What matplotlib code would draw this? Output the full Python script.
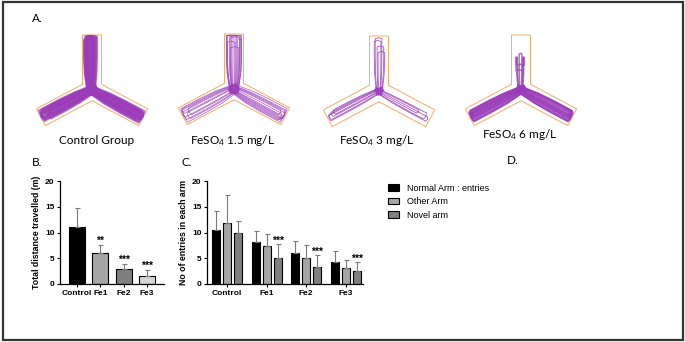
import numpy as np
import matplotlib
matplotlib.use('Agg')
from matplotlib import pyplot as plt
from matplotlib.patches import Polygon, Rectangle

plt.rcParams['mathtext.fontset'] = 'custom'
plt.rcParams['mathtext.rm'] = 'Lato'
plt.rcParams['mathtext.it'] = 'Lato'
plt.rcParams['mathtext.bf'] = 'Lato:bold'

# ---- panel B : total distance
groups_b = ['Control', 'Fe1', 'Fe2', 'Fe3']
distance = [11.1, 6.1, 3.0, 1.6]
distance_err = [3.6, 1.5, 0.8, 1.1]
stars_b = ['', '**', '***', '***']

# ---- panel C : entries per arm
groups_c = ['Control', 'Fe1', 'Fe2', 'Fe3']
arm_labels = ['Normal Arm : entries', 'Other Arm', 'Novel arm']
normal_arm = [10.5, 8.1, 6.1, 4.3]
normal_err = [3.6, 2.2, 2.2, 2.2]
other_arm = [11.8, 7.3, 5.1, 3.1]
other_err = [5.5, 2.5, 2.4, 1.5]
novel_arm = [10.0, 5.1, 3.3, 2.6]
novel_err = [2.2, 2.7, 2.3, 1.7]
stars_c = ['', '***', '***', '***']

# ---- panel A : y-maze track sketches
maze_labels = ['Control Group', 'FeSO$_4$ 1.5 mg/L', 'FeSO$_4$ 3 mg/L', 'FeSO$_4$ 6 mg/L']
maze_centers = [(92, 90), (234, 89), (379, 91), (521, 90)]
label_pos = [(97, 140), (233, 140), (377, 140), (520, 135)]
# per arm (top, left, right): (depth, lateral out, lateral back)
tracks_control = [
    [(0.97, -0.6, -0.2), (0.95, -0.4, 0.3), (0.97, 0.1, -0.5), (0.9, -0.8, 0.0),
     (0.96, 0.4, -0.3), (0.93, -0.2, 0.2), (0.97, -0.7, 0.5), (0.88, 0.0, -0.6),
     (0.97, -0.5, 0.1), (0.92, 0.2, -0.8)],
    [(0.95, 0.3, -0.2), (0.9, 0.6, 0.0), (0.97, -0.4, 0.3), (0.85, 0.1, -0.6),
     (0.92, 0.5, 0.2), (0.96, -0.1, 0.4), (0.8, 0.2, -0.3), (0.97, 0.7, -0.5),
     (0.94, -0.3, 0.6)],
    [(0.97, -0.3, 0.2), (0.93, 0.0, 0.5), (0.9, -0.5, -0.1), (0.97, 0.3, -0.2),
     (0.95, 0.6, 0.1), (0.88, -0.2, 0.4), (0.96, 0.2, -0.4), (0.97, -0.6, 0.7),
     (0.93, 0.4, -0.5)],
]
tracks_15 = [
    [(0.97, -0.8, -0.3), (0.97, 0.7, 0.2), (0.95, -0.5, 0.6), (0.97, 0.0, -0.7),
     (0.9, 0.4, 0.8), (0.96, -0.2, 0.3), (0.93, 0.6, -0.4), (0.85, -0.7, 0.1),
     (0.97, 0.8, -0.8), (0.75, -0.4, 0.5)],
    [(0.97, 0.6, -0.5), (0.95, 0.2, 0.7), (0.9, -0.6, 0.1), (0.97, 0.4, -0.2),
     (0.85, -0.3, 0.5), (0.97, -0.8, 0.8)],
    [(0.96, -0.6, 0.6), (0.97, 0.3, -0.3), (0.92, -0.1, 0.7), (0.95, 0.5, -0.5),
     (0.88, -0.4, 0.2), (0.97, 0.1, 0.4), (0.97, -0.8, 0.8)],
]
tracks_3 = [
    [(0.95, -0.4, 0.3), (0.8, 0.5, -0.2), (0.7, -0.1, 0.6), (0.9, 0.2, -0.5)],
    [(0.95, 0.3, -0.3), (0.9, -0.1, 0.4), (0.85, 0.5, 0.0), (0.97, -0.4, 0.2)],
    [(0.9, -0.3, 0.4), (0.75, 0.2, -0.2), (0.95, 0.0, 0.5)],
]
tracks_6 = [
    [(0.65, -0.2, 0.1), (0.45, 0.3, -0.4), (0.35, -0.5, 0.2)],
    [(0.97, 0.5, -0.5), (0.95, 0.2, 0.6), (0.97, -0.3, 0.3), (0.93, 0.6, -0.1),
     (0.96, -0.6, 0.0), (0.94, 0.1, -0.4), (0.97, 0.4, 0.2), (0.92, -0.2, 0.5),
     (0.97, 0.0, -0.6), (0.95, 0.3, -0.2)],
    [(0.97, -0.5, 0.5), (0.95, 0.2, -0.6), (0.97, 0.3, -0.3), (0.93, -0.6, 0.1),
     (0.96, 0.6, 0.0), (0.94, -0.1, 0.4), (0.97, -0.4, -0.2), (0.92, 0.2, -0.5),
     (0.97, 0.0, 0.6)],
]
maze_tracks = [tracks_control, tracks_15, tracks_3, tracks_6]
track_lw = [1.8, 0.55, 0.6, 1.1]
track_alpha = [0.7, 0.8, 0.85, 0.75]

arm_angles = [90, 208, -28]   # top, left, right
arm_len = [55, 58, 58]
half_w = 9.5
orange = '#f6ab68'
purple = '#9a3cb8'


def arm_vecs(k):
    a = np.radians(arm_angles[k])
    d = np.array([np.cos(a), -np.sin(a)])
    n = np.array([np.sin(a), np.cos(a)])
    return d, n


def maze_point(c, k, depth, lat):
    d, n = arm_vecs(k)
    return np.array(c) + depth * arm_len[k] * d + lat * half_w * n


def maze_outline(c):
    c = np.array(c)
    pts = []
    order = [0, 2, 1]
    for i, k in enumerate(order):
        d, n = arm_vecs(k)
        pts.append(c + arm_len[k] * d - half_w * n)
        pts.append(c + arm_len[k] * d + half_w * n)
        d2, _ = arm_vecs(order[(i + 1) % 3])
        bis = d + d2
        bis = bis / np.linalg.norm(bis)
        ang = np.arccos(np.clip(np.dot(d, d2), -1, 1))
        pts.append(c + bis * half_w / np.sin(ang / 2))
    return np.array(pts)


fig = plt.figure(figsize=(6.85, 3.42), dpi=100)
bg = fig.add_axes([0, 0, 1, 1])
bg.set_xlim(0, 685)
bg.set_ylim(342, 0)
bg.axis('off')
bg.add_patch(Rectangle((3, 2), 680, 338, fill=False, lw=1.6, ec='#333333'))

for c, lab, lp, tr, lw, al in zip(maze_centers, maze_labels, label_pos,
                                 maze_tracks, track_lw, track_alpha):
    for k in range(3):
        for depth, lo, lb in tr[k]:
            seq = [(-0.08, lo * 0.5), (0.3, lo * 0.9), (0.6, lo), (depth, lo),
                   (min(depth + 0.02, 0.98), (lo + lb) / 2), (depth, lb),
                   (0.6, lb), (0.3, lb * 0.9), (-0.08, lb * 0.5)]
            xy = np.array([maze_point(c, k, s, l) for s, l in seq])
            bg.plot(xy[:, 0], xy[:, 1], color=purple, lw=lw, alpha=al,
                    solid_joinstyle='round', solid_capstyle='round')
    bg.add_patch(Polygon(maze_outline(c), closed=True, fill=False,
                         ec=orange, lw=0.7))
    bg.text(lp[0], lp[1], lab, ha='center', va='center', fontsize=8.5,
            family='Lato')

for t, x, y in [('A.', 37, 19), ('B.', 37, 162), ('C.', 187, 162), ('D.', 513, 161)]:
    bg.text(x, y, t, ha='center', va='center', fontsize=8.5, family='Lato')

err_kw = dict(ecolor='#7a7a7a', elinewidth=0.8, capsize=1.8, capthick=0.8)
tick_font = dict(family='Liberation Sans', weight='bold', size=6)


def style_axis(ax, ylabel):
    ax.set_ylim(0, 20)
    ax.set_yticks([0, 5, 10, 15, 20])
    for s in ['top', 'right']:
        ax.spines[s].set_visible(False)
    for s in ['left', 'bottom']:
        ax.spines[s].set_linewidth(0.9)
    ax.tick_params(length=2.5, width=0.8, pad=1.5)
    for lbl in ax.get_xticklabels() + ax.get_yticklabels():
        lbl.set_fontproperties(tick_font)
    ax.set_ylabel(ylabel, family='Liberation Sans', weight='bold', fontsize=6.3,
                  labelpad=3)


# panel B
axb = fig.add_axes([60 / 685, 58 / 342, 104 / 685, 103 / 342])
xb = np.arange(len(groups_b))
colors_b = ['black', '#a6a6a6', '#7f7f7f', '#d6d6d6']
axb.bar(xb, distance, 0.69, color=colors_b, edgecolor='black', lw=0.8,
        yerr=[np.zeros(len(xb)), distance_err], error_kw=err_kw)
axb.set_xlim(-0.73, 3.73)
axb.set_xticks(xb)
axb.set_xticklabels(groups_b)
style_axis(axb, 'Total distance travelled (m)')
for i, s in enumerate(stars_b):
    if s:
        axb.text(xb[i], distance[i] + distance_err[i] - 0.1, s, ha='center',
                 va='bottom', fontsize=7.5, weight='bold', family='Liberation Sans')

# panel C
axc = fig.add_axes([207 / 685, 58 / 342, 156 / 685, 103 / 342])
xc = np.arange(len(groups_c))
off = 0.277
bw = 0.2
series = [(normal_arm, normal_err, 'black'), (other_arm, other_err, '#a6a6a6'),
          (novel_arm, novel_err, '#808080')]
handles = []
for j, (vals, errs, col) in enumerate(series):
    h = axc.bar(xc + (j - 1) * off, vals, bw, color=col, edgecolor='black', lw=0.8,
                yerr=[np.zeros(len(xc)), errs], error_kw=err_kw)
    handles.append(h)
axc.set_xlim(-0.5, 3.43)
axc.set_xticks(xc)
axc.set_xticklabels(groups_c)
style_axis(axc, 'No of entries in each arm')
for i, s in enumerate(stars_c):
    if s:
        axc.text(xc[i] + off, novel_arm[i] + novel_err[i] - 0.3, s, ha='center',
                 va='bottom', fontsize=7.5, weight='bold', family='Liberation Sans')

fig.legend(handles, arm_labels, loc='upper left',
           bbox_to_anchor=(384 / 685, 1 - 180 / 342), frameon=False,
           prop=dict(family='Liberation Sans', size=6.5), handlelength=1.3,
           handleheight=0.7, labelspacing=0.5, handletextpad=0.8,
           borderaxespad=0)

fig.savefig('out.png', dpi=100)
